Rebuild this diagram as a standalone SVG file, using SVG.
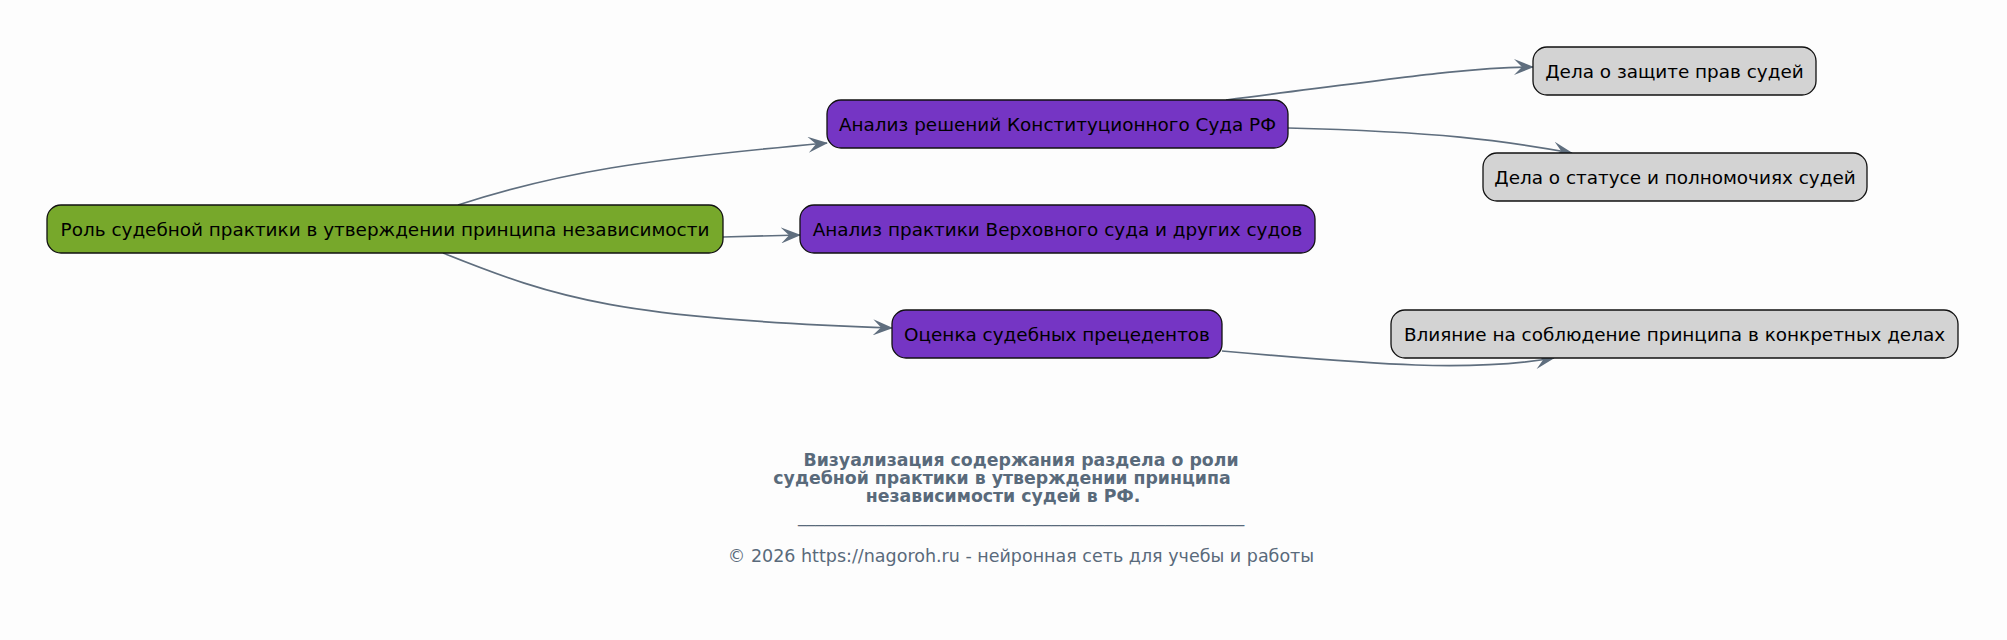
<svg xmlns="http://www.w3.org/2000/svg" width="2007" height="640" viewBox="0 0 2007 640">
<style>
.bg{fill:#fdfdfd}
.n rect{stroke:#111;stroke-width:1.3}
.root rect{fill:#77a82b}
.mid rect{fill:#7535c4}
.leaf rect{fill:#d3d3d3}
.n text{font-family:"DejaVu Sans",sans-serif;font-size:18.4px;fill:#000;text-anchor:middle;dominant-baseline:central}
.e path{fill:none;stroke:#5f6e7e;stroke-width:1.7;marker-end:url(#ah)}
.title{font-family:"DejaVu Sans",sans-serif;font-size:17.33px;font-weight:bold;fill:#596a7b;text-anchor:middle}
.foot{font-family:"DejaVu Sans",sans-serif;font-size:17.5px;fill:#596a7b;text-anchor:middle}
</style>
<defs>
<marker id="ah" viewBox="0 0 20 16" refX="19" refY="8" markerWidth="20" markerHeight="16" markerUnits="userSpaceOnUse" orient="auto">
<path d="M0,0 L20,8 L0,16 L8,8 Z" fill="#5f6e7e"/>
</marker>
</defs>
<rect class="bg" x="0" y="0" width="2007" height="640"/>
<g class="e" id="connectors">
<path d="M458,205 C560,172 640,160 827,143"/>
<path d="M723,237 L800,235"/>
<path d="M443,253 C560,300 620,318 892,328"/>
<path d="M1226,100 C1400,78 1470,67 1533,67"/>
<path d="M1288,128 C1440,132 1500,140 1572,153"/>
<path d="M1222,351 C1380,365 1470,372 1554,358"/>
</g>
<g class="n root" id="root"><rect x="47" y="205" width="676" height="48" rx="14"/><text x="385" y="229">Роль судебной практики в утверждении принципа независимости</text></g>
<g class="n mid" id="n1"><rect x="827" y="100" width="461" height="48" rx="14"/><text x="1057.5" y="124">Анализ решений Конституционного Суда РФ</text></g>
<g class="n mid" id="n2"><rect x="800" y="205" width="515" height="48" rx="14"/><text x="1057.5" y="229">Анализ практики Верховного суда и других судов</text></g>
<g class="n mid" id="n3"><rect x="892" y="310" width="330" height="48" rx="14"/><text x="1057" y="334">Оценка судебных прецедентов</text></g>
<g class="n leaf" id="l1"><rect x="1533" y="47" width="283" height="48" rx="14"/><text x="1674.5" y="71">Дела о защите прав судей</text></g>
<g class="n leaf" id="l2"><rect x="1483" y="153" width="384" height="48" rx="14"/><text x="1675" y="177">Дела о статусе и полномочиях судей</text></g>
<g class="n leaf" id="l3"><rect x="1391" y="310" width="567" height="48" rx="14"/><text x="1674.5" y="334">Влияние на соблюдение принципа в конкретных делах</text></g>
<g id="caption">
<text class="title" x="1021" y="466">Визуализация содержания раздела о роли</text>
<text class="title" x="1002" y="484">судебной практики в утверждении принципа</text>
<text class="title" x="1003" y="502">независимости судей в РФ.</text>
<text class="foot" x="1021" y="522">___________________________________________________</text>
<text class="foot" x="1021" y="562">© 2026 https://nagoroh.ru - нейронная сеть для учебы и работы</text>
</g>
</svg>
